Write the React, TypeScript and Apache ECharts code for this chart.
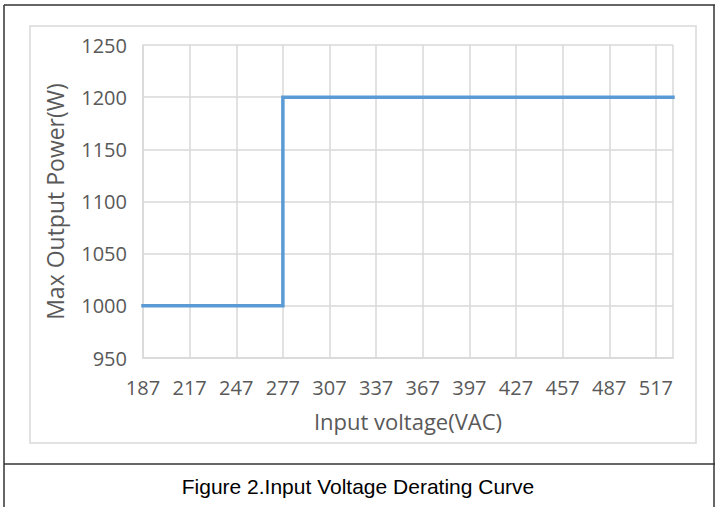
import React, { useEffect, useRef } from "react";
import * as echarts from "echarts";

const voltages = [187, 277, 277, 528];
const powers = [1000, 1000, 1200, 1200];
const xMin = 187;
const xMax = 528;
const xStep = 30;
const yMin = 950;
const yMax = 1250;
const yStep = 50;
const yTitle = "Max Output Power(W)";
const xTitle = "Input voltage(VAC)";
const caption = "Figure 2.Input Voltage Derating Curve";

export default function App() {
  const ref = useRef<HTMLDivElement>(null);
  useEffect(() => {
    if (!ref.current) return;
    const chart = echarts.init(ref.current, null, { renderer: "svg" });
    const font = "'Open Sans', sans-serif";
    const txt = "#595959";
    const grid = "#D9D9D9";
    chart.setOption({
      animation: false,
      backgroundColor: "#ffffff",
      grid: { left: 143, top: 45, right: 42, bottom: 149 },
      xAxis: {
        type: "value",
        min: xMin,
        max: xMax,
        interval: xStep,
        axisLine: { show: true, lineStyle: { color: grid, width: 1.5 } },
        axisTick: { show: false },
        splitLine: { show: true, lineStyle: { color: grid, width: 1.5 } },
        axisLabel: {
          color: txt,
          fontFamily: font,
          fontSize: 20,
          margin: 19,
          showMaxLabel: false,
          formatter: (v: number) => (v === xMax ? "" : String(v)),
        },
        name: xTitle,
        nameLocation: "middle",
        nameGap: 52,
        nameTextStyle: { color: txt, fontFamily: font, fontSize: 22 },
      },
      yAxis: {
        type: "value",
        min: yMin,
        max: yMax,
        interval: yStep,
        axisLine: { show: true, lineStyle: { color: grid, width: 1.5 } },
        axisTick: { show: false },
        splitLine: { show: true, lineStyle: { color: grid, width: 1.5 } },
        axisLabel: {
          color: txt,
          fontFamily: font,
          fontSize: 20,
          margin: 16,
          formatter: (v: number) => String(v),
        },
        name: yTitle,
        nameLocation: "middle",
        nameGap: 77,
        nameTextStyle: { color: txt, fontFamily: font, fontSize: 23 },
      },
      series: [
        {
          type: "line",
          data: voltages.map((v, i) => [v, powers[i]]),
          symbol: "none",
          lineStyle: { color: "#5B9BD5", width: 3.5, cap: "square", join: "miter" },
        },
      ],
      graphic: [
        { type: "rect", shape: { x: 30, y: 26, width: 666, height: 417 }, style: { fill: "none", stroke: grid, lineWidth: 1.5 }, silent: true },
        { type: "line", shape: { x1: 4, y1: 5, x2: 715, y2: 5 }, style: { stroke: "#333333", lineWidth: 1.5 } },
        { type: "line", shape: { x1: 4, y1: 5, x2: 4, y2: 507 }, style: { stroke: "#333333", lineWidth: 1.5 } },
        { type: "line", shape: { x1: 714, y1: 5, x2: 714, y2: 507 }, style: { stroke: "#333333", lineWidth: 1.5 } },
        { type: "line", shape: { x1: 4, y1: 464, x2: 715, y2: 464 }, style: { stroke: "#333333", lineWidth: 1.5 } },
        {
          type: "text",
          x: 358,
          y: 486,
          style: {
            text: caption,
            fill: "#000000",
            font: "21px 'Liberation Sans', Arial, sans-serif",
            align: "center",
            verticalAlign: "middle",
          },
        },
      ],
    });
    return () => chart.dispose();
  }, []);
  return (
    <div style={{ position: "fixed", left: 0, top: 0, width: 715, height: 507, background: "#fff" }}>
      <div ref={ref} style={{ width: 715, height: 507 }} />
    </div>
  );
}
